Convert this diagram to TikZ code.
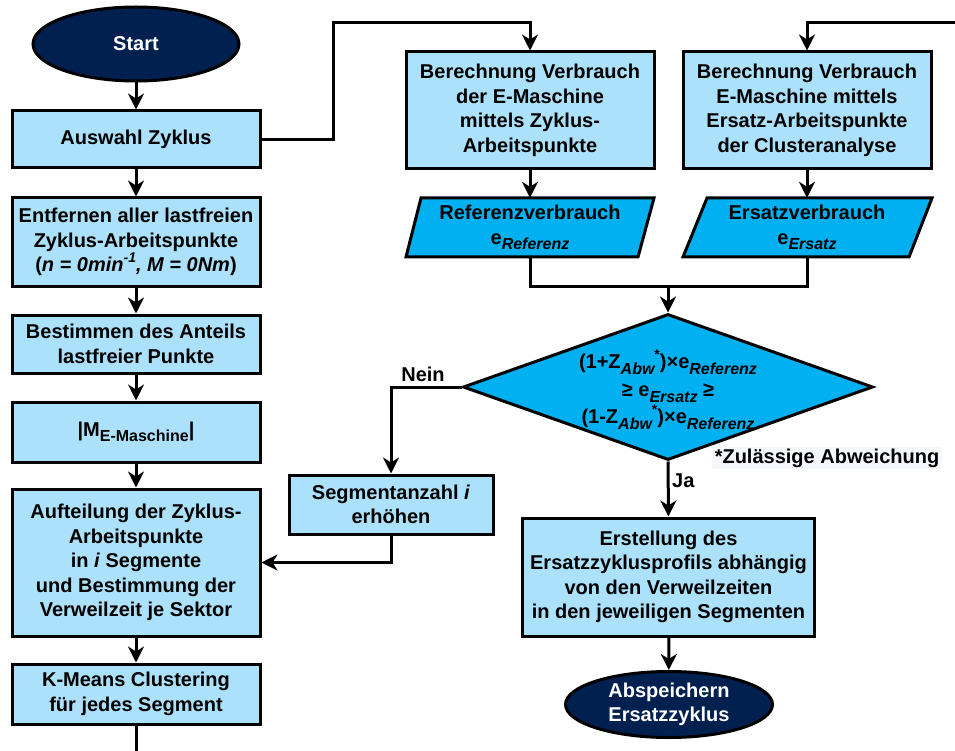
\documentclass[tikz,border=0pt]{standalone}
\usepackage{fontspec}
\setmainfont{Liberation Sans}
\usetikzlibrary{shapes.geometric,arrows.meta}

\definecolor{boxblue}{RGB}{171,225,250}
\definecolor{ioblue}{RGB}{0,176,240}
\definecolor{navy}{RGB}{0,32,80}
\definecolor{notebg}{RGB}{246,247,250}

% small raised/lowered indices in running text
\newcommand{\isub}[1]{\raisebox{-0.28em}{\fontsize{16}{16}\selectfont\itshape #1}}
\newcommand{\usub}[1]{\raisebox{-0.28em}{\fontsize{16}{16}\selectfont #1}}
\newcommand{\usup}[1]{\raisebox{0.45em}{\fontsize{14}{14}\selectfont #1}}

\tikzset{
  txt/.style={font=\fontsize{20}{24.5}\selectfont\bfseries, align=center, inner sep=0pt},
  procbox/.style={txt, draw=black, fill=boxblue, line width=3pt, rectangle},
  terminal/.style={txt, ellipse, draw=black, fill=navy, text=white, line width=3pt},
  iotext/.style={txt, rectangle, minimum height=59pt},
  iofill/.style={draw=black, fill=ioblue, line width=3pt, line join=miter},
  decision/.style={diamond, draw=black, fill=ioblue, line width=3pt, inner sep=0pt},
  link/.style={draw=black, line width=3pt, line join=miter},
  flow/.style={link, -{Stealth[length=16pt, width=16pt, inset=5pt]}},
  lbl/.style={font=\fontsize{20}{24}\selectfont\bfseries, inner sep=0pt},
}

\begin{document}
\begin{tikzpicture}[x=1pt, y=-1pt]
  \useasboundingbox (0,0) rectangle (955,751);

  % ---- left column ----
  \node[terminal, minimum width=206pt, minimum height=74pt] (start) at (136,44) {Start};
  \node[procbox, minimum width=248pt, minimum height=57pt] (auswahl) at (136,139.5) {Auswahl Zyklus};
  \node[procbox, minimum width=248pt, minimum height=88pt] (entfernen) at (136,242)
    {Entfernen aller lastfreien\\ Zyklus-Arbeitspunkte\\ (\textit{n = 0min\usup{-1}, M = 0Nm})};
  \node[procbox, minimum width=248pt, minimum height=58pt] (bestimmen) at (136,344)
    {Bestimmen des Anteils\\ lastfreier Punkte};
  \node[procbox, minimum width=248pt, minimum height=60pt] (mabs) at (136,432)
    {|M\usub{E-Maschine}|};
  \node[procbox, minimum width=248pt, minimum height=147pt] (aufteilung) at (136,562.5)
    {Aufteilung der Zyklus-\\ Arbeitspunkte\\ in \textit{i} Segmente\\ und Bestimmung der\\ Verweilzeit je Sektor};
  \node[procbox, minimum width=248pt, minimum height=60pt] (kmeans) at (136,694)
    {K-Means Clustering\\ für jedes Segment};
  \coordinate (bottomout) at (136,751);

  % ---- consumption branches ----
  \node[procbox, minimum width=248pt, minimum height=117pt] (calcref) at (530,110.5)
    {Berechnung Verbrauch\\ der E-Maschine\\ mittels Zyklus-\\ Arbeitspunkte};
  \node[procbox, minimum width=248pt, minimum height=117pt] (calcers) at (807,110.5)
    {Berechnung Verbrauch\\ E-Maschine mittels\\ Ersatz-Arbeitspunkte\\ der Clusteranalyse};

  \draw[iofill] (421,198) -- (654,198) -- (638,257) -- (406,257) -- cycle;
  \draw[iofill] (707,198) -- (932,198) -- (909,257) -- (683,257) -- cycle;
  \node[iotext, minimum width=220pt] (eref) at (530,227.5) {Referenzverbrauch\\ e\isub{Referenz}};
  \node[iotext, minimum width=210pt] (eers) at (807,227.5) {Ersatzverbrauch\\ e\isub{Ersatz}};

  \coordinate (loopA) at (333,23);
  \coordinate (inR) at (955,23);
  \coordinate (merge) at (668,286);

  % ---- decision ----
  \node[decision, minimum width=410pt, minimum height=146pt] (dec) at (668,387) {};
  \node[txt, font=\fontsize{20}{27.5}\selectfont\bfseries] (dectext) at (668,390)
    {(1+Z\isub{Abw}\usup{*})×e\isub{Referenz}\\ ≥ e\isub{Ersatz} ≥\\ (1-Z\isub{Abw}\usup{*})×e\isub{Referenz}};

  \node[txt, fill=notebg, minimum width=230pt, minimum height=22pt] (note) at (827,458)
    {*Zulässige Abweichung};

  \node[procbox, minimum width=204pt, minimum height=59pt] (segment) at (391,504.5)
    {Segmentanzahl \textit{i}\\ erhöhen};
  \node[procbox, minimum width=292pt, minimum height=118pt] (erstellung) at (668.5,577)
    {Erstellung des\\ Ersatzzyklusprofils abhängig\\ von den Verweilzeiten\\ in den jeweiligen Segmenten};
  \node[terminal, minimum width=207pt, minimum height=66pt] (ende) at (669,704.5)
    {Abspeichern\\ Ersatzzyklus};

  % ---- connectors ----
  \draw[flow] (start) -- (auswahl);
  \draw[flow] (auswahl) -- (entfernen);
  \draw[flow] (entfernen) -- (bestimmen);
  \draw[flow] (bestimmen) -- (mabs);
  \draw[flow] (mabs) -- (aufteilung);
  \draw[flow] (aufteilung) -- (kmeans);
  \draw[link] (kmeans.south) -- (bottomout);

  \draw[flow] (auswahl.east) -| (loopA) -| (calcref.north);
  \draw[flow] (inR) -| (calcers.north);
  \draw[flow] (calcref) -- (eref);
  \draw[flow] (calcers) -- (eers);
  \draw[link] (eref.south) |- (merge) -| (eers.south);
  \draw[flow] (merge) -- (dec.north);

  \draw[flow] (dec.west) -| (segment.north);
  \node[lbl] (nein) at (423,374) {Nein};
  \draw[flow] (segment.south) |- (aufteilung.east);

  \draw[flow] (dec.south) -- (erstellung.north);
  \node[lbl, anchor=west] (ja) at (672,481) {Ja};
  \draw[flow] (erstellung) -- (ende);
\end{tikzpicture}
\end{document}
